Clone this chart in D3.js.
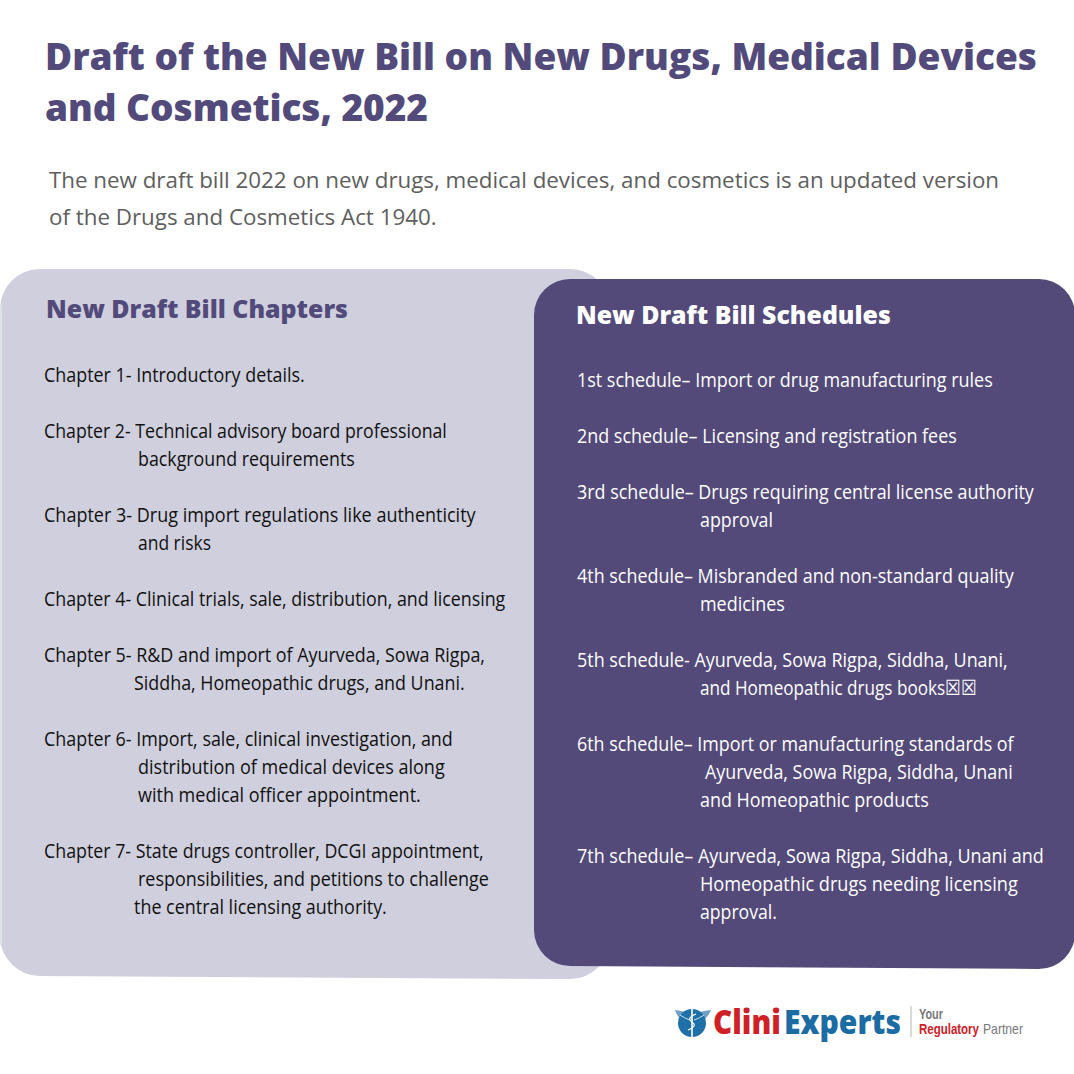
<!DOCTYPE html>
<html>
<head>
<meta charset="utf-8">
<script src="https://cdnjs.cloudflare.com/ajax/libs/d3/7.8.5/d3.min.js"></script>
<style>
  html, body { margin: 0; padding: 0; background: #fff; }
  svg { display: block; }
</style>
</head>
<body>
<div id="chart"></div>
<script>
// Heading text
const titleLines = ["Draft of the New Bill on New Drugs, Medical Devices", "and Cosmetics, 2022"];
const subtitleLines = [
    "The new draft bill 2022 on new drugs, medical devices, and cosmetics is an updated version",
    "of the Drugs and Cosmetics Act 1940."
];

// Left panel text
const chapterHeading = "New Draft Bill Chapters";
const chapterLines = [
    "Chapter 1- Introductory details.",
    "Chapter 2- Technical advisory board professional",
    "background requirements",
    "Chapter 3- Drug import regulations like authenticity",
    "and risks",
    "Chapter 4- Clinical trials, sale, distribution, and licensing",
    "Chapter 5- R&D and import of Ayurveda, Sowa Rigpa,",
    "Siddha, Homeopathic drugs, and Unani.",
    "Chapter 6- Import, sale, clinical investigation, and",
    "distribution of medical devices along",
    "with medical officer appointment.",
    "Chapter 7- State drugs controller, DCGI appointment,",
    "responsibilities, and petitions to challenge",
    "the central licensing authority."
];

// Right panel text
const scheduleHeading = "New Draft Bill Schedules";
const scheduleLines = [
    "1st schedule\u2013 Import or drug manufacturing rules",
    "2nd schedule\u2013 Licensing and registration fees",
    "3rd schedule\u2013 Drugs requiring central license authority",
    "approval",
    "4th schedule\u2013 Misbranded and non-standard quality",
    "medicines",
    "5th schedule- Ayurveda, Sowa Rigpa, Siddha, Unani,",
    "and Homeopathic drugs books\u2612\u2612",
    "6th schedule\u2013 Import or manufacturing standards of",
    "Ayurveda, Sowa Rigpa, Siddha, Unani",
    "and Homeopathic products",
    "7th schedule\u2013 Ayurveda, Sowa Rigpa, Siddha, Unani and",
    "Homeopathic drugs needing licensing",
    "approval."
];

// Layout for each text line: row on the 28px grid, left edge, right edge
const chapterRows = [0, 2, 3, 5, 6, 8, 10, 11, 13, 14, 15, 17, 18, 19];
const chapterLeft = [44, 44, 138, 44, 138, 44, 44, 134, 44, 138, 138, 44, 138, 134];
const chapterRight = [305, 447, 355, 476, 211, 506, 485, 465, 453, 445, 421, 484, 489, 387];
const scheduleRows = [0, 2, 4, 5, 7, 8, 10, 11, 13, 14, 15, 17, 18, 19];
const scheduleLeft = [577, 577, 577, 700, 577, 700, 577, 700, 577, 705, 700, 577, 700, 700];
const scheduleRight = [993, 957, 1034, 773, 1014, 785, 1008, 977, 1014, 1013, 929, 1044, 1018, 777];

const svg = d3.select("#chart").append("svg")
    .attr("width", 1074)
    .attr("height", 1074);

// Scale a text element sideways so that it spans from x0 to x1
function fit(sel, x0, x1, y) {
    let length = sel.node().getComputedTextLength();
    sel.attr("transform", `translate(${x0},${y}) scale(${(x1 - x0) / length},1)`);
}

// Rounded panel whose bottom edge runs slightly downhill
function panel(x0, x1, top, bottomLeft, bottomRight, r, fill) {
    let p = d3.path();
    p.moveTo(x0 + r, top);
    p.lineTo(x1 - r, top);
    p.arcTo(x1, top, x1, top + r, r);
    p.lineTo(x1, bottomRight - r);
    p.arcTo(x1, bottomRight, x1 - r, bottomRight, r);
    p.lineTo(x0 + r, bottomLeft);
    p.arcTo(x0, bottomLeft, x0, bottomLeft - r, r);
    p.lineTo(x0, top + r);
    p.arcTo(x0, top, x0 + r, top, r);
    p.closePath();
    svg.append("path").attr("d", p.toString()).attr("fill", fill);
}

// Draw the rows of one panel
function drawLines(lines, rows, left, right, y0, color) {
    let y = d3.scaleLinear().domain([0, 19]).range([y0, y0 + 19 * 28]);
    svg.append("g").selectAll("text")
        .data(lines)
        .join("text")
        .attr("font-family", "'Open Sans'")
        .attr("font-size", 20.5)
        .attr("fill", color)
        .text(d => d)
        .each(function (d, i) { fit(d3.select(this), left[i], right[i], y(rows[i])); });
}

// Title, spread out with letter spacing rather than scaled
titleLines.forEach((line, i) => {
    let t = svg.append("text")
        .attr("x", 45)
        .attr("y", [70, 121][i])
        .attr("font-family", "'Open Sans'")
        .attr("font-weight", 800)
        .attr("font-size", 37)
        .attr("fill", "#524a7a")
        .text(line);
    let extra = ([1037, 428][i] - 45 - t.node().getComputedTextLength()) / line.length;
    t.attr("letter-spacing", extra);
});

// Subtitle
subtitleLines.forEach((line, i) => {
    svg.append("text")
        .attr("font-family", "'Open Sans'")
        .attr("font-size", 22.5)
        .attr("fill", "#5e5e5e")
        .text(line)
        .call(fit, 49, [1000, 437][i], [188, 225][i]);
});

// Panels, with the pale sliver on the left edge of the light one
panel(0, 610, 269, 976, 979, 40, "#cfcfdd");
svg.append("rect")
    .attr("x", 0).attr("y", 305)
    .attr("width", 2).attr("height", 640)
    .attr("fill", "#dde4e6");
panel(534, 1075, 279, 966, 969, 36, "#534a79");

// Panel headings
svg.append("text")
    .attr("font-family", "'Open Sans'").attr("font-weight", 800).attr("font-size", 25)
    .attr("fill", "#524a7a")
    .text(chapterHeading)
    .call(fit, 46, 348, 318);
svg.append("text")
    .attr("font-family", "'Open Sans'").attr("font-weight", 800).attr("font-size", 25)
    .attr("fill", "#ffffff")
    .text(scheduleHeading)
    .call(fit, 576, 891, 324);

drawLines(chapterLines, chapterRows, chapterLeft, chapterRight, 382, "#111111");
drawLines(scheduleLines, scheduleRows, scheduleLeft, scheduleRight, 387, "#ffffff");

// Logo emblem: wings, disc, staff and snake
let logo = svg.append("g");
logo.append("path")
    .attr("d", "M675 1010 Q685 1011 692 1016 Q699 1011 711 1010 Q707 1021 692 1026 Q678 1021 675 1010 Z")
    .attr("fill", "#6f9fc4");
logo.append("circle").attr("cx", 692).attr("cy", 1023).attr("r", 14).attr("fill", "#1f6fa8");
logo.append("path")
    .attr("d", "M680 1015 Q686 1019 690 1020 M704 1015 Q698 1019 694 1020")
    .attr("fill", "none").attr("stroke", "#cfe0ee").attr("stroke-width", 1);
logo.append("line")
    .attr("x1", 692).attr("x2", 692).attr("y1", 1009).attr("y2", 1038)
    .attr("stroke", "#fff").attr("stroke-width", 1.6);
logo.append("path")
    .attr("d", "M696 1014 Q686 1018 692 1022 Q698 1026 688 1030")
    .attr("fill", "none").attr("stroke", "#fff").attr("stroke-width", 1.2);

// Logo wordmark
logo.append("text")
    .attr("font-family", "'Open Sans'").attr("font-weight", 800).attr("font-size", 33)
    .attr("fill", "#cf2027")
    .text("Clini")
    .call(fit, 713, 781, 1034);
logo.append("text")
    .attr("font-family", "'Open Sans'").attr("font-weight", 800).attr("font-size", 33)
    .attr("fill", "#1b6ca3")
    .text("Experts")
    .call(fit, 784, 901, 1034);
logo.append("line")
    .attr("x1", 911).attr("x2", 911).attr("y1", 1006).attr("y2", 1037)
    .attr("stroke", "#b5b5b5").attr("stroke-width", 1);

// Logo tagline
logo.append("text")
    .attr("font-family", "'Liberation Sans'").attr("font-weight", 700).attr("font-size", 14)
    .attr("fill", "#77777a")
    .text("Your")
    .call(fit, 919, 943, 1019);
logo.append("text")
    .attr("font-family", "'Liberation Sans'").attr("font-weight", 700).attr("font-size", 14)
    .attr("fill", "#cf2027")
    .text("Regulatory")
    .call(fit, 919, 979, 1034);
logo.append("text")
    .attr("font-family", "'Liberation Sans'").attr("font-size", 14)
    .attr("fill", "#77777a")
    .text("Partner")
    .call(fit, 983, 1023, 1034);
</script>
</body>
</html>
